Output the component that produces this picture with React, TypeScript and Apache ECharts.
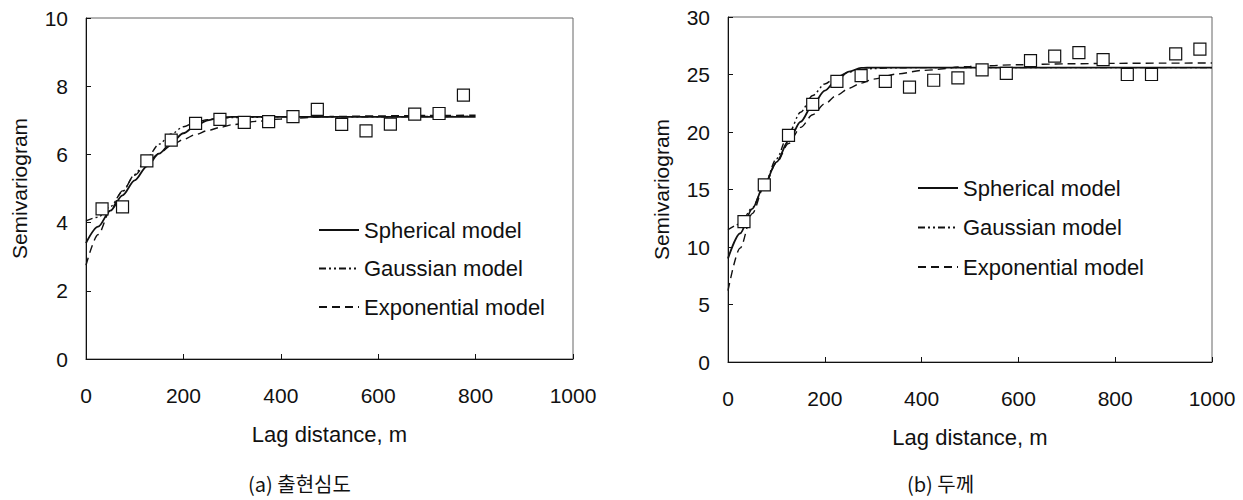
import React, { useEffect, useRef } from "react";
import * as echarts from "echarts";

// Observed semivariogram points
const lagA = [33, 75, 125, 175, 225, 275, 325, 375, 425, 475, 525, 575, 625, 675, 725, 775];
const semA = [4.4, 4.46, 5.81, 6.42, 6.91, 7.03, 6.94, 6.96, 7.11, 7.32, 6.88, 6.69, 6.89, 7.18, 7.2, 7.74];

const lagB = [33, 75, 125, 175, 225, 275, 325, 375, 425, 475, 525, 575, 625, 675, 725, 775, 825, 875, 925, 975];
const semB = [12.2, 15.4, 19.7, 22.4, 24.4, 24.9, 24.4, 23.9, 24.5, 24.7, 25.4, 25.1, 26.2, 26.6, 26.9, 26.3, 25.0, 25.0, 26.8, 27.2];

// Fitted model curves
const modelLagA = [0, 25, 50, 75, 100, 125, 150, 175, 200, 225, 250, 275, 300, 350, 400, 500, 600, 700, 800];
const sphA = [3.4, 3.88, 4.35, 4.8, 5.24, 5.65, 6.02, 6.34, 6.62, 6.84, 7.0, 7.08, 7.1, 7.1, 7.1, 7.1, 7.1, 7.1, 7.1];
const gauA = [4.05, 4.16, 4.47, 4.91, 5.41, 5.89, 6.3, 6.6, 6.81, 6.95, 7.02, 7.06, 7.08, 7.09, 7.1, 7.1, 7.1, 7.11, 7.12];
const expA = [2.75, 3.65, 4.36, 4.93, 5.39, 5.75, 6.03, 6.26, 6.44, 6.58, 6.7, 6.79, 6.87, 6.97, 7.04, 7.11, 7.13, 7.14, 7.15];

const modelLagB = [0, 25, 50, 75, 100, 125, 150, 175, 200, 225, 250, 275, 300, 350, 400, 500, 600, 700, 800, 900, 1000];
const sphB = [9.0, 11.18, 13.32, 15.41, 17.38, 19.22, 20.89, 22.37, 23.6, 24.58, 25.25, 25.57, 25.6, 25.6, 25.6, 25.6, 25.6, 25.6, 25.6, 25.6, 25.6];
const gauB = [11.5, 12.0, 13.39, 15.41, 17.66, 19.85, 21.72, 23.17, 24.18, 24.83, 25.21, 25.42, 25.52, 25.59, 25.6, 25.6, 25.6, 25.6, 25.6, 25.6, 25.6];
const expB = [6.2, 9.9, 12.9, 15.3, 17.3, 19.0, 20.4, 21.5, 22.45, 23.2, 23.8, 24.25, 24.6, 25.05, 25.35, 25.7, 25.85, 25.93, 25.97, 25.99, 26.0];

const xTicks = [0, 200, 400, 600, 800, 1000];
const modelNames = ["Spherical model", "Gaussian model", "Exponential model"];
const captions = ["(a) 출현심도", "(b) 두께"];
const xName = "Lag distance, m";
const yName = "Semivariogram";

const FONT = "Liberation Sans, Arial, sans-serif";
const INK = "#111";

function zip(xs: number[], ys: number[]) {
  return xs.map((x, i) => [x, ys[i]]);
}

export default function App() {
  const ref = useRef<HTMLDivElement>(null);

  useEffect(() => {
    document.body.style.margin = "0";
    if (!ref.current) return;
    const chart = echarts.init(ref.current, undefined, { renderer: "svg" });

    const lineStyles: any[] = [
      { color: INK, width: 1.8, type: "solid" },
      { color: INK, width: 1.4, type: [7, 3, 2, 3, 2, 3] },
      { color: INK, width: 1.4, type: [8, 5] },
    ];

    const xAxisBase = (gridIndex: number) => ({
      type: "value",
      gridIndex,
      min: 0,
      max: 1000,
      interval: 200,
      name: xName,
      nameLocation: "middle",
      nameGap: 64,
      nameTextStyle: { fontFamily: FONT, fontSize: 22, color: INK },
      axisLine: { show: true, lineStyle: { color: INK, width: 1 } },
      axisTick: { show: true, inside: true, length: 5, lineStyle: { color: INK } },
      axisLabel: {
        fontFamily: FONT,
        fontSize: 21,
        color: INK,
        margin: 26,
        formatter: (v: number) => (xTicks.includes(v) ? String(v) : ""),
      },
      splitLine: { show: false },
    });

    const yAxisBase = (gridIndex: number, max: number, interval: number) => ({
      type: "value",
      gridIndex,
      min: 0,
      max,
      interval,
      name: yName,
      nameLocation: "middle",
      nameGap: 56,
      nameRotate: 90,
      nameTextStyle: { fontFamily: FONT, fontSize: 21, color: INK },
      axisLine: { show: true, lineStyle: { color: INK, width: 1 } },
      axisTick: { show: true, inside: true, length: 5, lineStyle: { color: INK } },
      axisLabel: { fontFamily: FONT, fontSize: 21, color: INK, margin: 18 },
      splitLine: { show: false },
    });

    const modelSeries = (idx: number, xs: number[], ys: number[][]) =>
      ys.map((arr, k) => ({
        name: modelNames[k],
        type: "line",
        xAxisIndex: idx,
        yAxisIndex: idx,
        data: zip(xs, arr),
        symbol: "none",
        smooth: 0.3,
        smoothMonotone: "x",
        lineStyle: lineStyles[k],
        itemStyle: { color: INK },
        z: 2,
      }));

    const pointSeries = (idx: number, xs: number[], ys: number[]) => ({
      name: "Observed",
      type: "scatter",
      xAxisIndex: idx,
      yAxisIndex: idx,
      data: zip(xs, ys),
      symbol: "rect",
      symbolSize: 12,
      itemStyle: { color: "#ffffff", borderColor: INK, borderWidth: 1.2, opacity: 1 },
      z: 5,
    });

    const legendBase = (left: number, top: number, itemGap: number) => ({
      data: modelNames,
      orient: "vertical",
      left,
      top,
      itemGap,
      itemWidth: 40,
      itemHeight: 24,
      padding: 0,
      selectedMode: false,
      itemStyle: { opacity: 0, borderWidth: 0 },
      textStyle: { fontFamily: FONT, fontSize: 22, color: INK, lineHeight: 24 },
    });

    chart.setOption({
      animation: false,
      backgroundColor: "#fff",
      title: [
        {
          text: captions[0],
          left: 248,
          top: 473,
          padding: 0,
          textStyle: { fontFamily: "Noto Sans CJK KR, sans-serif", fontSize: 20, fontWeight: "normal", color: INK },
        },
        {
          text: captions[1],
          left: 907,
          top: 473,
          padding: 0,
          textStyle: { fontFamily: "Noto Sans CJK KR, sans-serif", fontSize: 20, fontWeight: "normal", color: INK },
        },
      ],
      grid: [
        { left: 86, right: 670, top: 18, bottom: 141, show: true, borderColor: "#666", borderWidth: 1, backgroundColor: "transparent" },
        { left: 728, right: 31, top: 17, bottom: 138, show: true, borderColor: "#666", borderWidth: 1, backgroundColor: "transparent" },
      ],
      xAxis: [xAxisBase(0), xAxisBase(1)],
      yAxis: [yAxisBase(0, 10, 2), yAxisBase(1, 30, 5)],
      legend: [legendBase(318, 218, 14.5), legendBase(917, 176, 15.5)],
      series: [
        ...modelSeries(0, modelLagA, [sphA, gauA, expA]),
        pointSeries(0, lagA, semA),
        ...modelSeries(1, modelLagB, [sphB, gauB, expB]),
        pointSeries(1, lagB, semB),
      ],
    });

    return () => chart.dispose();
  }, []);

  return <div ref={ref} style={{ width: 1243, height: 500 }} />;
}
